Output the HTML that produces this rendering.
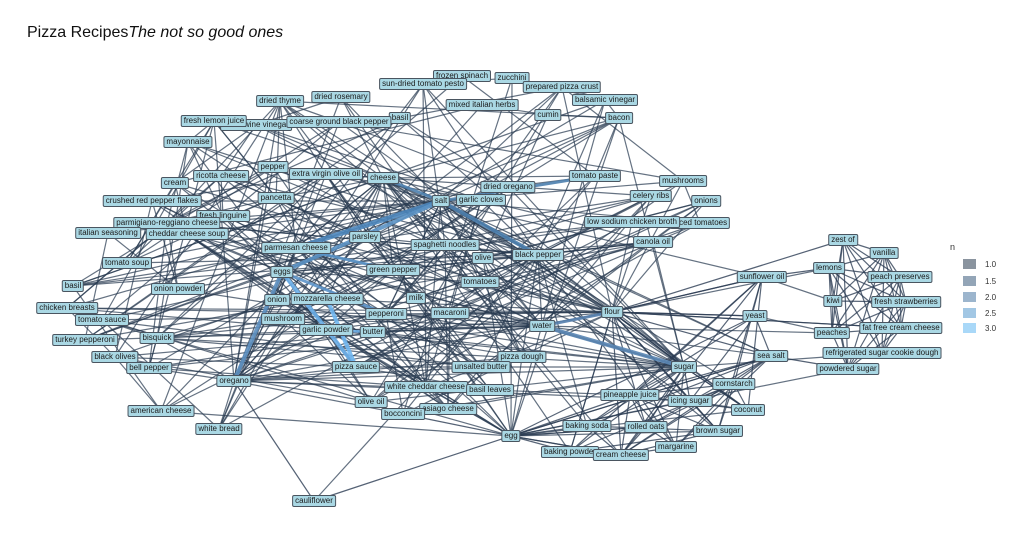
<!DOCTYPE html>
<html><head><meta charset="utf-8">
<style>
html,body{margin:0;padding:0;background:#fff;}
#wrap{position:relative;width:1023px;height:549px;overflow:hidden;font-family:"Liberation Sans",sans-serif;}
.t{position:absolute;left:27px;top:24px;font-size:16px;color:#111;}
.lb{position:absolute;transform:translate(-50%,-50%);background:#aad8e4;border:1px solid #4a5560;border-radius:2px;font-size:8px;line-height:10px;padding:0 2px;white-space:nowrap;color:#1a1a1a;}
svg{position:absolute;left:0;top:0;}
.lg{position:absolute;font-size:8px;color:#333;}
.sw{position:absolute;width:13px;height:10px;}
</style></head><body>
<div id="wrap">
<div class="t">Pizza Recipes<i>The not so good ones</i></div>
<svg id="s" width="1023" height="549"></svg>
<div class="lg" style="left:950px;top:242px;font-size:9px">n</div>
<div class="sw" style="left:963px;top:259px;background:#8a949f"></div><div class="lg" style="left:985px;top:260px">1.0</div>
<div class="sw" style="left:963px;top:276px;background:#93a5b7"></div><div class="lg" style="left:985px;top:277px">1.5</div>
<div class="sw" style="left:963px;top:292px;background:#9cb5cd"></div><div class="lg" style="left:985px;top:293px">2.0</div>
<div class="sw" style="left:963px;top:308px;background:#a2c7e4"></div><div class="lg" style="left:985px;top:309px">2.5</div>
<div class="sw" style="left:963px;top:323px;background:#a9d8f8"></div><div class="lg" style="left:985px;top:324px">3.0</div>
</div>
<script>
var N={
"frozen spinach":[462,76,0],"zucchini":[512,78,0],"sun-dried tomato pesto":[423,84,0],"prepared pizza crust":[562,87,0],
"dried rosemary":[341,97,0],"dried thyme":[280,101,0],"balsamic vinegar":[605,100,0],"mixed italian herbs":[482,105,0],
"cumin":[548,115,0],"bacon":[619,118,0],"basil":[400,118,0],"white wine vinegar":[256,125,0],"fresh lemon juice":[214,121,0],
"coarse ground black pepper":[339,122,0],"mayonnaise":[188,142,0],"pepper":[273,167,0],"ricotta cheese":[221,176,0],
"extra virgin olive oil":[326,174,0],"cheese":[383,178,0],"tomato paste":[595,176,0],"cream":[175,183,0],"mushrooms":[683,181,0],
"dried oregano":[508,187,0],"crushed red pepper flakes":[152,201,0],"pancetta":[276,198,0],"salt":[441,201,0],"garlic cloves":[481,200,0],
"celery ribs":[651,196,0],"onions":[706,201,0],"fresh linguine":[223,216,0],"diced tomatoes":[700,223,0],"parmigiano-reggiano cheese":[167,223,0],
"low sodium chicken broth":[632,222,0],"cheddar cheese soup":[187,234,0],"italian seasoning":[108,233,0],"parsley":[365,237,0],"canola oil":[653,242,0],
"parmesan cheese":[296,248,0],"spaghetti noodles":[445,245,0],"black pepper":[538,255,0],"olive":[483,258,0],"eggs":[282,272,0],
"green pepper":[393,270,0],"tomatoes":[480,282,0],"tomato soup":[127,263,0],"basil ":[73,286,0],"onion powder":[178,289,0],
"onion":[277,300,0],"mozzarella cheese":[327,299,0],"milk":[416,298,0],"pepperoni":[386,314,0],"macaroni":[450,313,0],
"chicken breasts":[67,308,0],"tomato sauce":[102,320,0],"mushroom":[283,319,0],"garlic powder":[326,330,0],"butter":[373,332,0],
"water":[542,326,0],"flour":[612,312,1],"turkey pepperoni":[85,340,0],"bisquick":[157,338,0],"black olives":[115,357,0],
"bell pepper":[149,368,0],"pizza sauce":[356,367,0],"pizza dough":[522,357,0],"unsalted butter":[481,367,0],"oregano":[234,381,0],
"white cheddar cheese":[426,387,0],"basil leaves":[490,390,0],"olive oil":[371,402,0],"asiago cheese":[448,409,0],"bocconcini":[403,414,0],
"american cheese":[161,411,0],"white bread":[219,429,0],"cauliflower":[314,501,3],"egg":[511,436,1],
"sugar":[684,367,1],"cornstarch":[734,384,1],"pineapple juice":[630,395,1],"icing sugar":[690,401,1],"coconut":[748,410,1],
"baking soda":[587,426,1],"rolled oats":[646,427,1],"brown sugar":[718,431,1],"baking powder":[570,452,1],"cream cheese":[621,455,1],"margarine":[676,447,1],
"sunflower oil":[762,277,1],"yeast":[755,316,1],"sea salt":[771,356,1],
"zest of":[843,240,2],"vanilla":[884,253,2],"lemons":[829,268,2],"peach preserves":[900,277,2],"kiwi":[833,301,2],
"fresh strawberries":[906,302,2],"peaches":[832,333,2],"fat free cream cheese":[901,328,2],"refrigerated sugar cookie dough":[882,353,2],"powdered sugar":[848,369,2]};
var disp={"basil ":"basil"};
var keys=Object.keys(N);var s=1234567;function r(){s=(s*1103515245+12345)%2147483648;return s/2147483648;}
var svg=document.getElementById('s');var out='';
var EC="#2a3b52",EO=0.72;
function L(a,b,w,c,o){var p=N[a],q=N[b];out+='<line x1="'+p[0]+'" y1="'+p[1]+'" x2="'+q[0]+'" y2="'+q[1]+'" stroke="'+c+'" stroke-width="'+w+'" stroke-opacity="'+o+'"/>';}
var g0=keys.filter(k=>N[k][2]==0),g1=keys.filter(k=>N[k][2]==1),g2=keys.filter(k=>N[k][2]==2);
for(var i=0;i<g0.length;i++)for(var j=i+1;j<g0.length;j++){var p=N[g0[i]],q=N[g0[j]];var d=Math.hypot(p[0]-q[0],p[1]-q[1]);var pr=d<150?0.13:0.055;if(r()<pr)L(g0[i],g0[j],1.2,EC,EO);}
var hubs=["salt","flour","water","egg","sugar","oregano","cheese","black pepper"];
hubs.forEach(h=>{keys.forEach(k=>{if(k!=h&&N[k][2]!=2&&r()<0.22)L(h,k,1.2,EC,EO);});});
for(var i=0;i<g1.length;i++)for(var j=i+1;j<g1.length;j++){if(r()<0.5)L(g1[i],g1[j],1.2,EC,0.78);}
for(var i=0;i<g2.length;i++)for(var j=i+1;j<g2.length;j++){if(r()<0.85)L(g2[i],g2[j],1.2,EC,0.78);}
["flour","egg","sugar","water","sunflower oil","yeast","sea salt"].forEach(h=>{g2.forEach(k=>{if(r()<0.12)L(h,k,1.2,EC,EO);});});
L("flour","sunflower oil",1.2,EC,.8);L("flour","yeast",1.2,EC,.8);L("flour","sea salt",1.2,EC,.8);
L("flour","zest of",1.2,EC,.8);L("flour","fat free cream cheese",1.2,EC,.8);L("sunflower oil","lemons",1.2,EC,.8);
L("oregano","cauliflower",1.2,EC,.8);L("cauliflower","egg",1.2,EC,.8);L("bocconcini","egg",1.2,EC,.8);
L("sea salt","powdered sugar",1.2,EC,.8);
var T=[["salt","parmesan cheese",5,"#4d86bb"],["salt","eggs",4,"#5b92c4"],["salt","black pepper",4,"#4d7fae"],["salt","tomato paste",3,"#4d7fae"],
["eggs","pizza sauce",4,"#6aaee8"],["mozzarella cheese","pizza sauce",4,"#70b6f0"],["parmesan cheese","green pepper",3,"#5a93c8"],
["oregano","eggs",4,"#5c8fc0"],["flour","water",3,"#5580ae"],["water","sugar",4,"#5a86b4"],["eggs","pepperoni",3,"#5d95ca"],["garlic powder","butter",2.5,"#6aaee8"],["salt","cheese",3,"#4d7fae"]];
T.forEach(t=>L(t[0],t[1],t[2],t[3],0.9));
svg.innerHTML=out;
var w=document.getElementById('wrap');
keys.forEach(k=>{var d=document.createElement('div');d.className='lb';d.style.left=N[k][0]+'px';d.style.top=N[k][1]+'px';d.textContent=disp[k]||k;w.appendChild(d);});
</script>
</body></html>
